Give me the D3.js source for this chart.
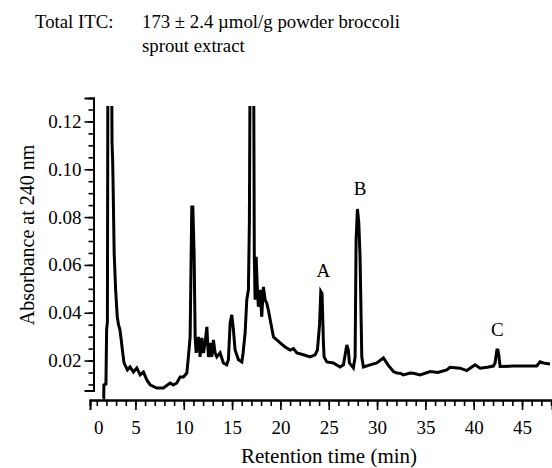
<!DOCTYPE html>
<html>
<head>
<meta charset="utf-8">
<script src="https://cdn.jsdelivr.net/npm/d3@7"></script>
<style>
  body { margin: 0; background: #fff; }
</style>
</head>
<body>
<script>
// chromatogram trace (min, absorbance at 240 nm)
const retentionTime = [
  1.62, 1.72, 1.74, 1.95, 2.02, 2.10, 2.16, 2.35, 2.52, 2.58, 2.64, 2.68, 2.80, 2.95, 3.12, 3.25,
  3.40, 3.52, 3.65, 3.82, 4.17, 4.45, 4.79, 5.14, 5.49, 5.83, 6.18, 6.52, 7.21, 7.90, 8.59, 8.93,
  9.28, 9.62, 9.97, 10.32, 10.48, 10.66, 10.83, 10.94, 11.07, 11.18, 11.28, 11.52, 11.69, 11.87,
  12.03, 12.21, 12.39, 12.55, 12.73, 12.90, 13.07, 13.24, 13.42, 13.76, 14.10, 14.45, 14.62, 14.80,
  14.97, 15.14, 15.31, 15.66, 16.01, 16.14, 16.35, 16.52, 16.69, 16.79, 16.88, 17.05, 17.22, 17.30,
  17.38, 17.49, 17.62, 17.72, 17.90, 18.07, 18.24, 18.42, 18.59, 18.76, 19.00, 19.28, 19.63, 19.97,
  20.49, 21.00, 21.35, 21.70, 22.38, 23.07, 23.59, 23.83, 24.05, 24.18, 24.31, 24.45, 24.52, 24.80,
  25.48, 26.18, 26.52, 26.87, 27.03, 27.14, 27.55, 27.73, 27.83, 27.97, 28.11, 28.24, 28.42, 28.59,
  29.28, 29.97, 30.31, 30.66, 31.00, 31.17, 31.69, 32.04, 32.38, 32.72, 33.42, 33.76, 34.45, 35.49,
  36.30, 37.21, 37.55, 38.59, 39.28, 40.14, 40.66, 41.40, 42.03, 42.21, 42.40, 42.50, 42.59, 42.73,
  44.10, 45.50, 46.52, 46.86, 47.21, 47.90
];
const absorbance = [
  0.0043, 0.0043, 0.0098, 0.0102, 0.0330, 0.0360, 0.160, 0.200, 0.160, 0.111, 0.104, 0.096, 0.065, 0.0496, 0.0383, 0.0350,
  0.0328, 0.0290, 0.0244, 0.0190, 0.0161, 0.0173, 0.0152, 0.0169, 0.0140, 0.0152, 0.0119, 0.0098, 0.0085, 0.0085, 0.0106, 0.0098,
  0.0106, 0.0131, 0.0131, 0.0148, 0.0215, 0.0299, 0.0842, 0.0842, 0.0651, 0.0299, 0.0232, 0.0299, 0.0215, 0.0295,
  0.0232, 0.0274, 0.0341, 0.0215, 0.0274, 0.0215, 0.0286, 0.0232, 0.0215, 0.0232, 0.0190, 0.0182, 0.0203, 0.0358,
  0.0391, 0.0328, 0.0244, 0.0203, 0.0194, 0.0232, 0.0316, 0.0454, 0.0496, 0.0777, 0.160, 0.200, 0.160, 0.0634,
  0.0454, 0.0634, 0.0496, 0.0425, 0.0496, 0.0383, 0.0508, 0.0454, 0.0440, 0.0410, 0.0358, 0.0299, 0.0286, 0.0274,
  0.0257, 0.0244, 0.0250, 0.0232, 0.0224, 0.0215, 0.0224, 0.0244, 0.0350, 0.0489, 0.0480, 0.0274, 0.0215, 0.0194,
  0.0190, 0.0173, 0.0182, 0.0265, 0.0244, 0.0190, 0.0169, 0.0215, 0.0705, 0.0834, 0.0777, 0.0634, 0.0215, 0.0173,
  0.0182, 0.0190, 0.0200, 0.0211, 0.0190, 0.0180, 0.0154, 0.0148, 0.0147, 0.0140, 0.0148, 0.0147, 0.0140, 0.0154,
  0.0150, 0.0161, 0.0172, 0.0168, 0.0158, 0.0182, 0.0168, 0.0172, 0.0177, 0.0190, 0.0244, 0.0244, 0.0223, 0.0175,
  0.0177, 0.0177, 0.0177, 0.0195, 0.0190, 0.0186
];

// peak letters: name, retention time, peak height
const peakNames = ["A", "B", "C"];
const peakTimes = [24.45, 28.25, 42.45];
const peakHeights = [0.0489, 0.0834, 0.0244];

// axis ticks
const yMajorTicks = [0.02, 0.04, 0.06, 0.08, 0.10, 0.12];
const yMinorTicks = d3.range(0.01, 0.1251, 0.005);
const xMajorTicks = [5, 10, 15, 20, 25, 30, 35, 40, 45];
const xMinorTicks = d3.range(1, 49, 1);
const xLabelPos = [1.15, 5, 10, 15, 20, 25, 30, 35, 40, 45];
const xLabelText = ["0", "5", "10", "15", "20", "25", "30", "35", "40", "45"];

const FONT = '"Liberation Serif", "Times New Roman", Tinos, "DejaVu Serif", serif';
const width = 552, height = 468;

const svg = d3.select("body")
  .append("svg")
  .attr("width", width)
  .attr("height", height)
  .style("font-family", FONT);

// scales
const xScale = d3.scaleLinear()
  .domain([0.3, 48.1])
  .range([90, 552]);

const yScale = d3.scaleLinear()
  .domain([0.0035, 0.1298])
  .range([400, 98]);

const yAxisX = 93.5;

// clip the trace to the plotted frame (tall peaks run off the top)
svg.append("clipPath")
  .attr("id", "plotClip")
  .append("rect")
    .attr("x", yAxisX)
    .attr("y", yScale(0.1265))
    .attr("width", width - yAxisX)
    .attr("height", yScale(0.0035) - yScale(0.1265));

const data = retentionTime.map((t, i) => ({t: t, v: absorbance[i]}));

const line = d3.line()
  .x(d => xScale(d.t))
  .y(d => yScale(d.v));

svg.append("path")
  .datum(data)
  .attr("clip-path", "url(#plotClip)")
  .attr("d", line)
  .style("fill", "none")
  .style("stroke", "#000")
  .style("stroke-width", 3)
  .style("stroke-linejoin", "miter");

// y axis (stops a little short of the x axis)
const yAxisScale = yScale.copy().domain([0.0075, 0.1298]).range([yScale(0.0075), 98]);

svg.append("g")
  .attr("transform", `translate(${yAxisX},0)`)
  .call(d3.axisLeft(yAxisScale).tickValues(yMinorTicks).tickSize(5).tickFormat(""));

const yMajor = svg.append("g")
  .attr("transform", `translate(${yAxisX},0)`)
  .call(d3.axisLeft(yAxisScale).tickValues(yMajorTicks).tickSize(9).tickPadding(3)
    .tickFormat(d3.format(".2f")));

// x axis
const xAxisY = 400;
svg.append("g")
  .attr("transform", `translate(0,${xAxisY})`)
  .call(d3.axisBottom(xScale).tickValues(xMinorTicks).tickSize(6).tickFormat(""));

svg.append("g")
  .attr("transform", `translate(0,${xAxisY})`)
  .call(d3.axisBottom(xScale).tickValues(xMajorTicks).tickSize(10).tickFormat(""));

const xLabels = svg.append("g")
  .attr("transform", `translate(0,${xAxisY})`)
  .call(d3.axisBottom(xScale).tickValues(xLabelPos).tickSize(0).tickPadding(21)
    .tickFormat((d, i) => xLabelText[i]));
xLabels.select(".domain").remove();

svg.selectAll("g").attr("font-family", FONT).attr("font-size", 19);
yMajor.attr("font-size", 20.5);
svg.selectAll(".domain").style("stroke", "#000").style("stroke-width", 2);
svg.selectAll(".tick line").style("stroke", "#000").style("stroke-width", 1.6);
svg.selectAll(".tick text").style("fill", "#000");

// peak letters
svg.selectAll("text.peak")
  .data(peakNames)
  .join("text")
    .attr("class", "peak")
    .attr("x", (d, i) => xScale(peakTimes[i]))
    .attr("y", (d, i) => yScale(peakHeights[i]) - 14)
    .attr("text-anchor", "middle")
    .style("font-size", "19px")
    .text(d => d);

// axis titles
svg.append("text")
  .attr("x", 329)
  .attr("y", 463)
  .attr("text-anchor", "middle")
  .style("font-size", "21px")
  .text("Retention time (min)");

svg.append("text")
  .attr("transform", "rotate(-90)")
  .attr("x", -235)
  .attr("y", 34)
  .attr("text-anchor", "middle")
  .style("font-size", "20px")
  .text("Absorbance at 240 nm");

// heading
svg.append("text")
  .attr("x", 35)
  .attr("y", 28)
  .style("font-size", "18.8px")
  .text("Total ITC:");

svg.append("text")
  .attr("x", 142)
  .attr("y", 28)
  .style("font-size", "18.8px")
  .text("173 ± 2.4 µmol/g powder broccoli");

svg.append("text")
  .attr("x", 142)
  .attr("y", 52)
  .style("font-size", "18.8px")
  .text("sprout extract");
</script>
</body>
</html>
